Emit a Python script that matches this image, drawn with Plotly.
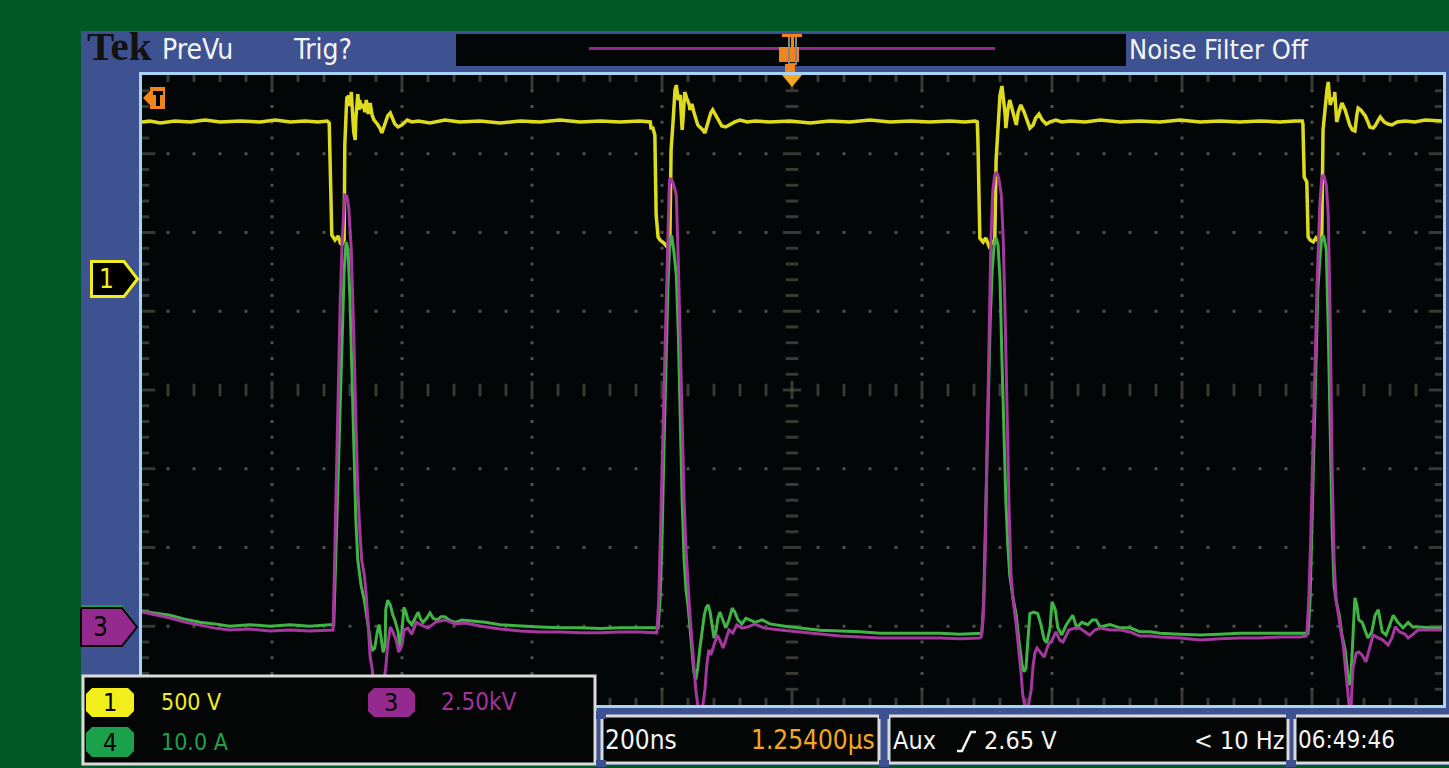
import plotly.graph_objects as go

# ---------------- acquisition settings ----------------
H_SCALE_NS = 200            # time base, ns / div
H_DIVS = 10
V_DIVS = 8
SPAN_NS = H_SCALE_NS * H_DIVS

CH1_SCALE_V, CH1_POS = 500.0, 1.4      # V/div, position (div)
CH3_SCALE_KV, CH3_POS = 2.5, -3.0      # kV/div
CH4_SCALE_A, CH4_POS = 10.0, -2.95     # A/div

# ---------------- waveform records ----------------
# CH1: switch-node voltage (V) vs time from left graticule edge (ns)
CH1_T = [0, 12, 28, 51, 74, 97, 120, 151, 182, 205, 228, 251, 271, 285,
         288, 289, 292, 297, 302, 305, 308, 309,
         311, 312, 314, 315, 318, 320, 322, 323, 325, 326, 328, 329, 331, 332, 334, 335, 337, 340, 343, 345, 348,
         351, 354, 357, 362, 366, 369, 374, 378, 382, 385, 389, 394, 400, 408, 415, 425,
         443, 466, 489, 520, 551, 582, 612, 643, 674, 705, 735, 766, 782,
         783, 786, 789, 791, 794, 797, 803, 808, 812,
         814, 817, 820, 822, 825, 828, 829, 831, 832, 835, 838, 842, 843, 846, 849, 852, 855, 858, 863, 866,
         869, 872, 875, 878, 883, 888, 892, 898, 905, 912, 920, 931, 943,
         966, 997, 1028, 1058, 1089, 1120, 1151, 1182, 1212, 1243, 1266, 1282,
         1285, 1286, 1289, 1294, 1298, 1303, 1308, 1311,
         1312, 1314, 1317, 1320, 1323, 1326, 1328, 1329, 1332, 1335, 1338, 1342, 1345, 1348, 1352, 1357, 1362,
         1366, 1371, 1375, 1380, 1385, 1391, 1397, 1406, 1415, 1428,
         1451, 1474, 1505, 1535, 1566, 1597, 1628, 1658, 1689, 1720, 1751, 1774, 1785,
         1786, 1788, 1792, 1794, 1797, 1802, 1806, 1811, 1814,
         1815, 1817, 1820, 1823, 1825, 1826, 1828, 1831, 1834, 1835, 1837, 1838, 1842, 1846, 1851, 1855, 1858,
         1862, 1866, 1869, 1871, 1875, 1882, 1886, 1889, 1894, 1897, 1902, 1905, 1911, 1917, 1923, 1931, 1943,
         1958, 1974, 1989, 2000]
CH1_V = [1002, 1008, 995, 1008, 1002, 1014, 1002, 1008, 1002, 1014, 1002, 1008, 1002, 1008,
         995, 760, 284, 252, 278, 233, 221, 240,
         252, 856, 1014, 1154, 1167, 1103, 1192, 1078, 983, 932, 887, 1027, 1141, 1179, 1078, 1141, 1090, 1116,
         1065, 1141, 1052, 1122, 1046, 1014, 989, 963, 932, 989, 1040, 1059, 1027, 989, 970, 983, 1014, 1002, 1008,
         995, 1014, 1002, 1008, 995, 1008, 1002, 1014, 1002, 1008, 1002, 1008, 1002,
         963, 963, 919, 411, 271, 252, 233, 208, 221,
         824, 1002, 1205, 1236, 1141, 1173, 1046, 951, 1002, 1192, 1154, 1110, 1078, 1116, 1065, 1027, 983, 970,
         951, 932, 970, 1014, 1059, 1078, 1040, 1002, 976, 970, 989, 1002, 1014, 1002, 1008,
         1002, 1008, 995, 1008, 1002, 1014, 1002, 1008, 1002, 1008, 1002, 1008,
         1002, 887, 265, 240, 265, 214, 240, 227,
         252, 760, 1014, 1173, 1230, 1141, 1046, 963, 1078, 1141, 1090, 1027, 983, 1065, 1110, 1065, 1002, 963,
         983, 1027, 1052, 1014, 989, 1002, 1014, 1002, 1008,
         1002, 1014, 1002, 1008, 1002, 1014, 1002, 1008, 1002, 1008, 1002, 1008, 1008,
         989, 652, 621, 271, 252, 240, 265, 240, 252,
         265, 951, 1110, 1205, 1256, 1173, 1110, 1154, 1141, 1192, 1078, 1002, 1065, 1122, 1078, 1027, 983,
         951, 944, 1046, 1090, 1078, 1040, 1002, 970, 963, 976, 1014, 1033, 1002, 989, 983, 1002, 1008,
         1002, 1014, 1008, 1008]

# CH3: high-voltage output (kV)
CH3_T = [0, 20, 43, 66, 89, 112, 135, 166, 197, 228, 258, 289,
         294, 295, 298, 302, 305, 308, 311, 312, 315, 318, 322, 323, 326, 329, 332, 335, 338, 342, 345, 348,
         351, 354, 357, 362, 366, 371, 375, 378, 382, 386, 391, 395, 400, 403, 409, 415, 422, 429, 440, 452,
         466, 482, 497,
         520, 551, 582, 612, 643, 674, 705, 735, 766, 791,
         792, 795, 798, 802, 805, 808, 811, 812, 815, 818, 822, 825, 828, 831, 834, 837, 840, 843, 846, 849,
         852, 855, 858, 863, 866, 869, 872, 875, 880, 885, 889, 894, 898, 903, 909, 915, 923, 932, 943, 958,
         982, 1012, 1043, 1074, 1105, 1135, 1166, 1197, 1228, 1258, 1289,
         1291, 1294, 1297, 1300, 1303, 1306, 1309, 1312, 1315, 1318, 1322, 1325, 1328, 1331, 1334, 1337, 1340,
         1345, 1349, 1352, 1355, 1358, 1363, 1368, 1371, 1374, 1377, 1382, 1388, 1394, 1400, 1406, 1412, 1417,
         1422, 1426, 1435, 1443, 1451, 1458, 1466, 1474, 1489, 1505, 1520, 1535, 1551, 1566,
         1597, 1628, 1658, 1689, 1720, 1751, 1782, 1791,
         1792, 1795, 1798, 1803, 1808, 1812, 1815, 1818, 1822, 1825, 1828, 1831, 1834, 1837, 1843, 1848, 1851,
         1854, 1857, 1860, 1863, 1868, 1872, 1877, 1883, 1889, 1894, 1902, 1909, 1917, 1923, 1928, 1935, 1943,
         1948, 1954, 1963, 1974, 1989, 2000]
CH3_KV = [0.45, 0.36, 0.26, 0.13, 0.04, -0.06, -0.12, -0.09, -0.15, -0.12, -0.15, -0.12,
          -0.12, 0.83, 4.01, 7.82, 10.36, 12.26, 13.53, 13.69, 13.66, 13.31, 11.94, 10.99, 9.09, 6.55, 4.33,
          3.06, 2.10, 1.63, 0.99, 0.04, -0.98, -1.33, -2.02, -2.44, -2.34, -1.87, -1.33, -0.60, -0.02, -0.18,
          -0.44, -0.82, -0.60, -0.12, -0.06, -0.25, 0.13, 0.04, -0.06, 0.13, 0.20, 0.07, 0.10,
          0.01, -0.09, -0.15, -0.18, -0.18, -0.21, -0.21, -0.18, -0.18, -0.21,
          -0.21, 0.83, 3.37, 6.55, 9.40, 11.85, 13.85, 14.23, 14.17, 14.01, 13.69, 11.63, 8.77, 6.23, 4.01,
          2.42, 1.15, 0.36, -0.44, -1.23, -2.02, -2.50, -2.66, -2.50, -2.02, -1.23, -0.75, -0.91, -0.60, -0.28,
          -0.44, -0.69, -0.44, -0.12, -0.21, 0.04, -0.06, -0.02, 0.07, -0.06,
          -0.12, -0.18, -0.25, -0.31, -0.34, -0.37, -0.37, -0.37, -0.37, -0.40, -0.37,
          -0.34, 0.20, 2.10, 5.91, 9.40, 12.26, 13.85, 14.33, 14.42, 14.23, 13.69, 12.26, 9.72, 6.55, 3.69,
          1.63, 0.83, 0.04, -0.75, -1.39, -2.18, -2.50, -2.60, -2.02, -1.23, -0.82, -0.69, -0.82, -0.98, -0.60,
          -0.44, -0.18, -0.44, -0.50, -0.28, -0.12, -0.06, -0.06, -0.18, -0.28, -0.12, -0.06, -0.12, -0.12,
          -0.18, -0.31, -0.31, -0.34,
          -0.37, -0.44, -0.40, -0.37, -0.37, -0.34, -0.34, -0.31,
          -0.28, 0.83, 2.74, 7.18, 10.99, 13.37, 14.23, 14.33, 14.01, 13.06, 9.72, 4.96, 2.10, 0.83, 0.10,
          -0.60, -1.23, -1.87, -2.50, -2.60, -1.33, -0.85, -0.82, -0.91, -1.13, -0.66, -0.28, -0.37, -0.44,
          -0.60, -0.37, -0.02, -0.18, -0.25, -0.37, -0.28, -0.12, -0.12, -0.12, -0.12]

# CH4: load current (A)
CH4_T = [0, 20, 43, 66, 89, 112, 135, 166, 197, 228, 258, 289,
         295, 298, 302, 305, 308, 311, 314, 317, 320, 323, 326, 329, 332, 337, 342, 346, 349, 352, 355, 358,
         362, 365, 368, 371, 374, 375, 378, 382, 386, 389, 394, 397, 400, 403, 406, 409, 415, 420, 425, 428,
         432, 438, 443, 448, 454, 460, 466, 474, 482, 492, 505,
         528, 551, 582, 612, 643, 674, 705, 735, 766, 792,
         794, 797, 800, 803, 806, 809, 812, 815, 818, 822, 825, 828, 831, 834, 837, 840, 843, 846, 849, 852,
         855, 858, 862, 865, 868, 871, 874, 877, 880, 883, 886, 889, 894, 898, 903, 908, 912, 917, 923, 929,
         935, 943, 954, 966,
         989, 1012, 1043, 1074, 1105, 1135, 1166, 1197, 1228, 1258, 1289,
         1292, 1295, 1298, 1302, 1305, 1308, 1311, 1314, 1317, 1320, 1323, 1326, 1329, 1332, 1335, 1340, 1345,
         1349, 1354, 1357, 1360, 1363, 1366, 1372, 1378, 1383, 1388, 1392, 1397, 1400, 1405, 1409, 1415, 1422,
         1428, 1432, 1438, 1446, 1455, 1462, 1468, 1474, 1489, 1505, 1520, 1535, 1551, 1566,
         1597, 1628, 1658, 1689, 1720, 1751, 1782, 1792,
         1794, 1797, 1800, 1803, 1806, 1809, 1812, 1815, 1818, 1822, 1825, 1828, 1831, 1834, 1837, 1842, 1846,
         1851, 1854, 1857, 1860, 1863, 1866, 1869, 1872, 1877, 1882, 1886, 1892, 1897, 1902, 1908, 1914, 1920,
         1925, 1932, 1940, 1948, 1955, 1966, 1982, 2000]
CH4_A = [1.4, 1.2, 0.9, 0.4, 0.0, -0.2, -0.5, -0.3, -0.5, -0.3, -0.5, -0.3,
         -0.3, 7.9, 19.3, 30.8, 38.4, 44.7, 48.3, 47.3, 40.9, 30.8, 20.6, 13.0, 7.9, 4.7, 2.8, 0.9, -1.0, -2.9,
         -3.5, -3.3, -1.2, -0.3, -2.2, -3.8, -2.9, 1.6, 2.8, 2.2, 0.9, 0.3, -1.2, -3.5, -1.0, 1.9, 1.3, 0.3,
         -0.3, 0.5, 1.3, 0.5, 0.0, 0.5, 1.2, 0.5, 0.3, 0.7, 0.7, 0.2, 0.0, 0.3, 0.2,
         0.0, -0.3, -0.5, -0.6, -0.7, -0.7, -0.8, -0.7, -0.7, -0.7,
         -0.7, 2.8, 10.5, 21.9, 33.3, 42.2, 48.5, 49.1, 47.3, 44.1, 37.1, 25.7, 15.5, 7.9, 4.1, 2.2, -1.0,
         -4.2, -6.3, -7.3, -5.8, -3.5, -1.0, 0.9, 1.9, 2.2, 1.3, -0.3, -2.0, -1.2, 0.5, 1.3, 0.3, -0.7, 0.3,
         1.8, 1.3, 0.3, -0.2, 0.5, 0.3, 0.0, 0.3, -0.2,
         -0.5, -0.7, -1.0, -1.1, -1.2, -1.4, -1.4, -1.4, -1.4, -1.5, -1.4,
         -1.4, 2.8, 15.5, 28.2, 38.4, 44.7, 47.9, 48.8, 47.9, 43.5, 33.3, 23.2, 15.5, 9.8, 6.0, 3.1, 0.9,
         -2.2, -5.4, -6.3, -5.8, -2.2, 1.1, 1.3, 1.1, -0.3, -2.2, -2.6, -0.7, 2.6, 1.6, -0.7, -1.6, -0.3,
         0.5, 0.9, -0.7, 0.0, -0.3, 0.3, 0.3, -0.6, -0.3, -0.7, -0.7, -1.2, -1.2, -1.4,
         -1.5, -1.6, -1.5, -1.4, -1.4, -1.4, -1.4, -1.4,
         -1.4, 2.8, 13.0, 24.4, 34.6, 42.2, 46.0, 48.8, 49.1, 47.3, 37.1, 23.2, 11.7, 4.7, 2.8, 0.9, -1.6,
         -3.5, -5.8, -8.0, -6.8, -2.2, 3.1, 2.2, 0.3, 0.0, -1.2, -2.0, -1.2, 0.9, 1.6, -1.2, -1.6, -0.3,
         0.9, 0.0, -0.7, 0.0, -0.6, -0.6, -0.7, -0.7]

# ---------------- readouts ----------------
CH1_LABEL = "500 V"
CH3_LABEL = "2.50kV"
CH4_LABEL = "10.0 A"
TIMEBASE = "200ns"
H_POSITION = "1.25400µs"
TRIG_SOURCE = "Aux"
TRIG_LEVEL = "2.65 V"
TRIG_FREQ = "< 10 Hz"
CLOCK = "06:49:46"
STATUS = ["PreVu", "Trig?"]
FILTER_MSG = "Noise Filter Off"

# ---------------- colours / fonts ----------------
BG_GREEN = "#005824"
FRAME = "#3e5291"
BEZEL = "#a6d4f2"
SCREEN = "#030607"
GRID = "#4f4f45"
TR_YELLOW = "#dedA1e"
TR_PURPLE = "#a5379f"
TR_GREEN = "#41b446"
MK_YELLOW = "#f2ee1c"
MK_PURPLE = "#952a8e"
MK_GREEN = "#1ba14c"
ORANGE = "#f0851e"
ORANGE_LT = "#f5a623"
PANEL_EDGE = "#dadada"
WHITE = "#f4f4f4"
FONT = "Liberation Sans Narrow, DejaVu Sans Condensed, Liberation Sans, sans-serif"
SERIF = "Liberation Serif, DejaVu Serif, serif"

# ---------------- page geometry ----------------
W, H = 1449, 768
L, R, T, B = 142, 1442, 75, 705
NS_PER_PX = SPAN_NS / (R - L)
DIV_PER_PX = V_DIVS / (B - T)


def px(x):
    return (x - L) / (R - L)


def py(y):
    return (B - y) / (B - T)


def rect(x0, y0, x1, y1, fill=None, line=None, width=0, layer="above"):
    d = dict(type="rect", xref="paper", yref="paper", layer=layer,
             x0=px(x0), x1=px(x1), y0=py(y1), y1=py(y0),
             line=dict(width=width, color=line or "rgba(0,0,0,0)"))
    if fill:
        d["fillcolor"] = fill
    return d


def poly(pts, fill=None, line=None, width=0, closed=True, layer="above"):
    path = "M " + " L ".join(f"{px(x):.5f},{py(y):.5f}" for x, y in pts)
    if closed:
        path += " Z"
    d = dict(type="path", xref="paper", yref="paper", layer=layer, path=path,
             line=dict(width=width, color=line or "rgba(0,0,0,0)"))
    if fill:
        d["fillcolor"] = fill
    return d


def pill(x0, y0, x1, y1, fill):
    c = 6
    return poly([(x0 + c, y0), (x1 - c, y0), (x1, y0 + c), (x1, y1 - c), (x1 - c, y1),
                 (x0 + c, y1), (x0, y1 - c), (x0, y0 + c)], fill=fill)


def label(text, x, y, color, size, anchor="left", family=FONT):
    return dict(text=text, x=px(x), y=py(y), xref="paper", yref="paper",
                xanchor=anchor, yanchor="middle", showarrow=False,
                font=dict(family=family, size=size, color=color))


fig = go.Figure()

# ---------------- graticule ----------------
mid_t = SPAN_NS / 2
minor_t = [i * H_SCALE_NS / 5 for i in range(1, H_DIVS * 5)]
minor_y = [-V_DIVS / 2 + j / 5 for j in range(1, V_DIVS * 5)]

dot_x, dot_y = [], []
for k in range(1, V_DIVS):
    yv = -V_DIVS / 2 + k
    if yv == 0:
        continue
    for t in minor_t:
        if t != mid_t:
            dot_x.append(t)
            dot_y.append(yv)
for k in range(1, H_DIVS):
    t = k * H_SCALE_NS
    if t == mid_t:
        continue
    for j, yv in enumerate(minor_y, start=1):
        if j % 5:
            dot_x.append(t)
            dot_y.append(yv)
fig.add_trace(go.Scatter(x=dot_x, y=dot_y, mode="markers", hoverinfo="skip",
                         marker=dict(symbol="square", size=3, color=GRID, line=dict(width=0))))

# vertical dashes: centre horizontal axis + top/bottom edge ticks
vx, vy, vs = [], [], []
for i, t in enumerate(minor_t, start=1):
    major = i % 5 == 0
    vx.append(t); vy.append(0); vs.append(13 if major else 9)
    ln = 12 if major else 6
    vx += [t, t]
    vy += [V_DIVS / 2 - ln / 2 * DIV_PER_PX, -V_DIVS / 2 + ln / 2 * DIV_PER_PX]
    vs += [ln, ln]
fig.add_trace(go.Scatter(x=vx, y=vy, mode="markers", hoverinfo="skip",
                         marker=dict(symbol="line-ns", size=vs, color=GRID,
                                     line=dict(width=3, color=GRID))))

# horizontal dashes: centre vertical axis + left/right edge ticks
hx, hy, hs = [], [], []
for j, yv in enumerate(minor_y, start=1):
    major = j % 5 == 0
    hx.append(mid_t); hy.append(yv); hs.append(13 if major else 9)
    ln = 11 if major else 6
    hx += [ln / 2 * NS_PER_PX, SPAN_NS - ln / 2 * NS_PER_PX]
    hy += [yv, yv]
    hs += [ln, ln]
fig.add_trace(go.Scatter(x=hx, y=hy, mode="markers", hoverinfo="skip",
                         marker=dict(symbol="line-ew", size=hs, color=GRID,
                                     line=dict(width=3, color=GRID))))

# ---------------- waveforms ----------------
fig.add_trace(go.Scatter(x=CH1_T, y=[CH1_POS + v / CH1_SCALE_V for v in CH1_V], mode="lines",
                         line=dict(color=TR_YELLOW, width=3.5), hoverinfo="skip"))
fig.add_trace(go.Scatter(x=CH4_T, y=[CH4_POS + a / CH4_SCALE_A for a in CH4_A], mode="lines",
                         line=dict(color=TR_GREEN, width=3), hoverinfo="skip"))
fig.add_trace(go.Scatter(x=CH3_T, y=[CH3_POS + v / CH3_SCALE_KV for v in CH3_KV], mode="lines",
                         line=dict(color=TR_PURPLE, width=3), hoverinfo="skip"))

# ---------------- bezel / frame ----------------
shapes = [
    rect(81, 31, W + 2, 765, fill=FRAME, layer="below"),
    rect(139, 72, 1446, 708, fill=BEZEL, layer="below"),
    rect(L, T, R + 1, B, fill=SCREEN, layer="below"),
    # record view strip
    rect(456, 34, 1126, 66, fill=SCREEN),
    rect(589, 47, 995, 50, fill="#8e2a8a"),
    # trigger position marker
    rect(779, 47, 799, 62, fill=ORANGE),
    rect(782, 34, 802, 37, fill=ORANGE),
    rect(791, 37, 794, 47, fill=ORANGE),
    poly([(789, 37), (789, 64), (796, 64), (796, 37)], line="#8a8580", width=2, closed=False),
    rect(785, 64, 795, 72, fill=ORANGE),
    poly([(782, 75), (802, 75), (792, 87)], fill=ORANGE_LT),
    # trigger level marker
    poly([(143, 98), (150, 91), (150, 87), (165, 87), (165, 109), (150, 109), (150, 105)], fill=ORANGE),
    rect(153, 91, 163, 95, fill="#000000"),
    rect(156, 95, 160, 106, fill="#000000"),
    # channel ground markers
    poly([(91.5, 261.5), (124, 261.5), (137.5, 279), (124, 296.5), (91.5, 296.5)],
         fill="#000000", line=MK_YELLOW, width=3),
    poly([(81, 605), (122, 605), (136, 624), (122, 643), (81, 643)], fill=MK_GREEN),
    poly([(81, 608), (122, 608), (137, 627), (122, 646), (81, 646)],
         fill=MK_PURPLE, line="#000000", width=2),
    # channel readout box
    rect(83, 676, 595, 764, fill="#040606", line=PANEL_EDGE, width=3),
    pill(86, 688, 134, 717, MK_YELLOW),
    pill(368, 688, 415, 717, MK_PURPLE),
    pill(86, 727, 134, 757, MK_GREEN),
    # horizontal / trigger / clock readouts
    rect(602, 716, 879, 763, fill="#040606", line=PANEL_EDGE, width=3),
    rect(889, 716, 1288, 763, fill="#040606", line=PANEL_EDGE, width=3),
    rect(1295, 716, 1458, 763, fill="#040606", line=PANEL_EDGE, width=3),
    poly([(957, 751), (962, 751), (971, 732), (976, 732)], line=WHITE, width=2.5, closed=False),
]
for cx in (601, 884, 1291):
    shapes.append(rect(cx - 5, 711, cx + 5, 719, fill=FRAME))
    shapes.append(rect(cx - 5, 760, cx + 5, 767, fill=FRAME))

annotations = [
    label("<b>Tek</b>", 85, 46, "#15130f", 41, family=SERIF),
    label(STATUS[0], 160, 50, WHITE, 28),
    label(STATUS[1], 291, 50, WHITE, 28),
    label(FILTER_MSG, 1127, 50, WHITE, 27),
    label("1", 106, 279, MK_YELLOW, 26, anchor="center"),
    label("3", 100, 627, "#000000", 26, anchor="center"),
    label("1", 110, 702, "#000000", 25, anchor="center"),
    label("3", 391, 702, "#000000", 25, anchor="center"),
    label("4", 110, 742, "#000000", 25, anchor="center"),
    label(CH1_LABEL, 159, 702, MK_YELLOW, 23),
    label(CH3_LABEL, 439, 702, "#a0349a", 24),
    label(CH4_LABEL, 159, 742, "#1fa048", 23),
    label(TIMEBASE, 603, 740, WHITE, 26),
    label(H_POSITION, 877, 740, ORANGE_LT, 26, anchor="right"),
    label(TRIG_SOURCE, 891, 740, WHITE, 25),
    label(TRIG_LEVEL, 982, 740, WHITE, 25),
    label(TRIG_FREQ, 1286, 740, WHITE, 25, anchor="right"),
    label(CLOCK, 1296, 740, WHITE, 24),
]

fig.update_layout(
    width=W, height=H,
    margin=dict(l=L, r=W - R, t=T, b=H - B, pad=0),
    paper_bgcolor=BG_GREEN,
    plot_bgcolor=SCREEN,
    showlegend=False,
    shapes=shapes,
    annotations=annotations,
    xaxis=dict(range=[0, SPAN_NS], showgrid=False, zeroline=False, showticklabels=False,
               ticks="", showline=False, fixedrange=True),
    yaxis=dict(range=[-V_DIVS / 2, V_DIVS / 2], showgrid=False, zeroline=False,
               showticklabels=False, ticks="", showline=False, fixedrange=True),
)

fig.write_html("out.html", config={"displayModeBar": False, "staticPlot": True})
